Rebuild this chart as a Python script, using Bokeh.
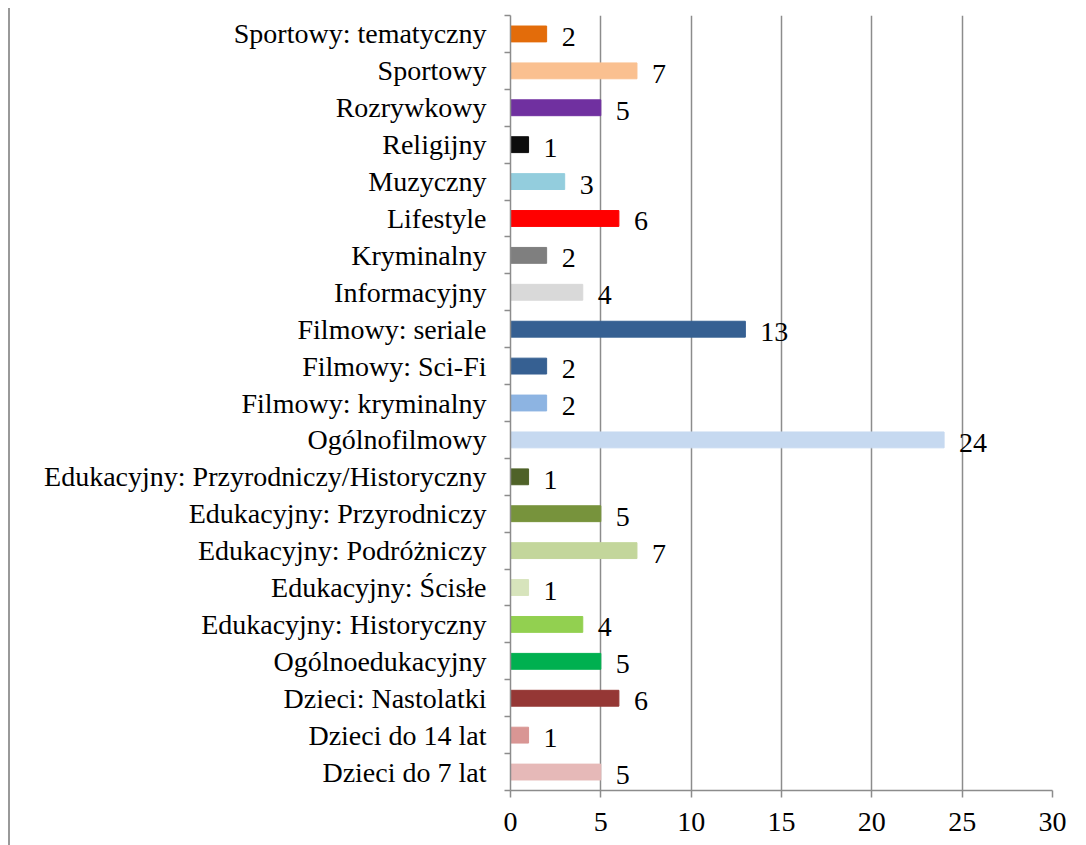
from bokeh.plotting import figure
from bokeh.models import FixedTicker, ColumnDataSource
from bokeh.core.properties import value
from bokeh.embed import file_html
from bokeh.resources import INLINE

# categories listed top to bottom as in the chart
categories = [
    "Sportowy: tematyczny", "Sportowy", "Rozrywkowy", "Religijny", "Muzyczny",
    "Lifestyle", "Kryminalny", "Informacyjny", "Filmowy: seriale", "Filmowy: Sci-Fi",
    "Filmowy: kryminalny", "Ogólnofilmowy", "Edukacyjny: Przyrodniczy/Historyczny",
    "Edukacyjny: Przyrodniczy", "Edukacyjny: Podróżniczy", "Edukacyjny: Ścisłe",
    "Edukacyjny: Historyczny", "Ogólnoedukacyjny", "Dzieci: Nastolatki",
    "Dzieci do 14 lat", "Dzieci do 7 lat",
]
counts = [2, 7, 5, 1, 3, 6, 2, 4, 13, 2, 2, 24, 1, 5, 7, 1, 4, 5, 6, 1, 5]
colors = [
    "#E36C0A", "#FAC090", "#7030A0", "#0D0D0D", "#93CDDD",
    "#FF0000", "#7F7F7F", "#D9D9D9", "#366092", "#366092",
    "#8DB4E2", "#C6D9F0", "#4F6228", "#77933C", "#C3D69B",
    "#D7E4BC", "#92D050", "#00B050", "#953735", "#D99694",
    "#E6B9B8",
]
x_ticks = [0, 5, 10, 15, 20, 25, 30]

n = len(categories)
pos = [n - i - 0.5 for i in range(n)]
src = ColumnDataSource(dict(y=pos, v=counts, c=colors, lbl=[str(v) for v in counts]))

FONT = "Liberation Serif"
FS = "28px"
GRAY = "#8C8C8C"

p = figure(frame_width=542, frame_height=775, width=1070, height=837,
           x_range=(0, 30), y_range=(0, n),
           output_backend="svg", toolbar_location=None,
           min_border_left=500, min_border_right=26, min_border_top=7, min_border_bottom=55)
p.styles = {"border-left": "2px solid #999999", "margin-left": "8px", "margin-top": "8px"}
p.outline_line_color = None
p.background_fill_color = "white"

p.hbar(y="y", left=0, right="v", height=0.43, color="c", source=src)
p.text(x="v", y="y", text="lbl", source=src, x_offset=15, y_offset=3,
       text_baseline="middle", text_align="left",
       text_font=value(FONT), text_font_size=FS, text_color="black")

# x axis
p.xaxis.ticker = FixedTicker(ticks=x_ticks)
p.xaxis.axis_line_color = GRAY
p.xaxis.axis_line_width = 1.5
p.xaxis.major_tick_line_color = GRAY
p.xaxis.major_tick_line_width = 1.5
p.xaxis.major_tick_out = 7
p.xaxis.major_tick_in = 0
p.xaxis.minor_tick_line_color = None
p.xaxis.major_label_standoff = 15
p.xaxis.major_label_text_font = FONT
p.xaxis.major_label_text_font_size = FS
p.xaxis.major_label_text_color = "black"

# y axis: labels at centres, tick marks at boundaries
p.yaxis.ticker = FixedTicker(ticks=pos, minor_ticks=list(range(n + 1)))
p.yaxis.major_label_overrides = {pp: c for pp, c in zip(pos, categories)}
p.yaxis.axis_line_color = GRAY
p.yaxis.axis_line_width = 1.5
p.yaxis.major_tick_line_color = None
p.yaxis.major_tick_out = 0
p.yaxis.major_tick_in = 0
p.yaxis.minor_tick_line_color = GRAY
p.yaxis.minor_tick_line_width = 1.5
p.yaxis.minor_tick_out = 6
p.yaxis.minor_tick_in = 0
p.yaxis.major_label_standoff = 18
p.yaxis.major_label_text_font = FONT
p.yaxis.major_label_text_font_size = FS
p.yaxis.major_label_text_color = "black"

p.xgrid.grid_line_color = GRAY
p.xgrid.grid_line_width = 1.5
p.xgrid.ticker = FixedTicker(ticks=x_ticks)
p.ygrid.grid_line_color = None

open("out.html", "w").write(file_html(p, INLINE))
